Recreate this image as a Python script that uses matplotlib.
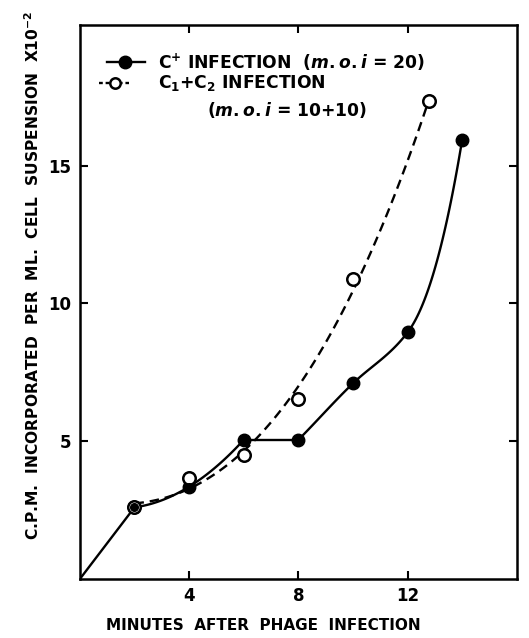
import numpy as np
import matplotlib.pyplot as plt

# C+ infection (m.o.i = 20), filled circles
cplus_min = [2, 4, 6, 8, 10, 12, 14]
cplus_cpm = [2.6, 3.35, 5.05, 5.05, 7.1, 8.95, 15.95]

# C1 + C2 infection (m.o.i = 10+10), open circles
c12_min = [2, 4, 6, 8, 10, 12.8]
c12_cpm = [2.6, 3.67, 4.5, 6.55, 10.9, 17.35]

xticks = [4, 8, 12]
yticks = [5, 10, 15]

# hand-drawn tangents of the solid curve after the plateau (at 8, 10, 12, 14 min)
rise_slopes = [1.0, 0.95, 1.3, 6.0]

plt.rcParams["font.family"] = "DejaVu Sans"
plt.rcParams["font.weight"] = "bold"


def hermite(x, y, m, n=40):
    # piecewise cubic hermite through points with given slopes
    xs, ys = [], []
    for i in range(len(x) - 1):
        h = x[i + 1] - x[i]
        t = np.linspace(0, 1, n)
        h00 = 2 * t**3 - 3 * t**2 + 1
        h10 = t**3 - 2 * t**2 + t
        h01 = -2 * t**3 + 3 * t**2
        h11 = t**3 - t**2
        xs.append(x[i] + t * h)
        ys.append(h00 * y[i] + h10 * h * m[i] + h01 * y[i + 1] + h11 * h * m[i + 1])
    return np.concatenate(xs), np.concatenate(ys)


fig = plt.figure(figsize=(5.29, 6.38), dpi=100)
ax = fig.add_axes([0.151, 0.0925, 0.826, 0.868])

cx = np.array(cplus_min, dtype=float)
cy = np.array(cplus_cpm, dtype=float)
ox = np.array(c12_min, dtype=float)
oy = np.array(c12_cpm, dtype=float)

lw = 1.7

# solid curve: straight rise from origin, smooth rise, plateau, then steep rise
ax.plot([0, cx[0]], [0, cy[0]], color="black", lw=lw)
p1 = np.polyfit(cx[:3], cy[:3], 2)
t1 = np.linspace(cx[0], cx[2], 60)
ax.plot(t1, np.polyval(p1, t1), color="black", lw=lw)
ax.plot(cx[2:4], cy[2:4], color="black", lw=lw)
hx, hy = hermite(cx[3:], cy[3:], rise_slopes)
ax.plot(hx, hy, color="black", lw=lw)

# dashed curve through the open points
p3 = np.polyfit(ox, oy, 3)
t3 = np.linspace(ox[0], ox[-1], 100)
ax.plot(t3, np.polyval(p3, t3), color="black", lw=lw, ls=(0, (4, 2.5)))

ax.plot(cx, cy, "o", color="black", ms=9, zorder=4)
ax.plot(ox, oy, "o", mfc="white", mec="black", mew=1.8, ms=9, zorder=5)
shared = np.isin(cx, ox)
ax.plot(cx[shared], cy[shared], "o", color="black", ms=5.5, zorder=6)

ax.set_xlim(0, 16)
ax.set_ylim(0, 20.1)
ax.set_xticks(xticks)
ax.set_yticks(yticks)
ax.tick_params(direction="in", length=6, width=1.5, labelsize=12,
               top=True, right=True, pad=6)
for s in ax.spines.values():
    s.set_linewidth(1.8)

fig.text(0.497, 1 - 625 / 638, "MINUTES  AFTER  PHAGE  INFECTION",
         fontsize=11, fontweight="bold", ha="center", va="center")
fig.text(33 / 529, 1 - 275 / 638,
         "C.P.M.  INCORPORATED  PER  ML.  CELL  SUSPENSION  X10$^{-2}$",
         fontsize=11.2, fontweight="bold", ha="center", va="center",
         rotation=90)

# legend, hand placed in axes fraction coordinates
ax.plot([0.062, 0.148], [0.933, 0.933], color="black", lw=lw,
        transform=ax.transAxes)
ax.plot([0.103], [0.933], "o", color="black", ms=9, transform=ax.transAxes)
ax.plot([0.044, 0.112], [0.895, 0.895], color="black", lw=lw,
        ls=(0, (1.6, 1.2)), transform=ax.transAxes)
ax.plot([0.08], [0.895], "o", mfc="white", mec="black", mew=1.8, ms=7.5,
        transform=ax.transAxes, zorder=5)
ax.text(0.178, 0.933, "C$^{+}$ INFECTION  ($m.o.i$ = 20)", fontsize=12.3,
        fontweight="bold", va="center", transform=ax.transAxes)
ax.text(0.178, 0.895, "C$_{1}$+C$_{2}$ INFECTION", fontsize=12.3,
        fontweight="bold", va="center", transform=ax.transAxes)
ax.text(0.29, 0.847, "($m.o.i$ = 10+10)", fontsize=12.3,
        fontweight="bold", va="center", transform=ax.transAxes)

fig.savefig("out.png", dpi=100)
